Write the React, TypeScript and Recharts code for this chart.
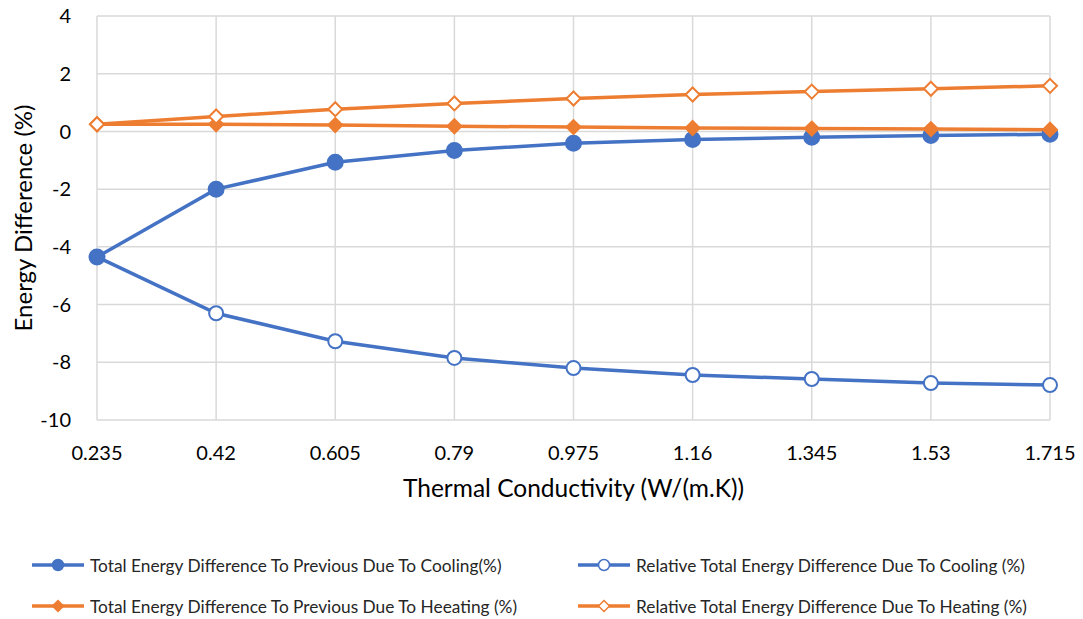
import React from 'react';
import { LineChart, Line, XAxis, YAxis, CartesianGrid } from 'recharts';

const conductivity = ['0.235', '0.42', '0.605', '0.79', '0.975', '1.16', '1.345', '1.53', '1.715'];
const coolingTotal = [-4.35, -2.0, -1.07, -0.66, -0.41, -0.28, -0.2, -0.14, -0.1];
const coolingRelative = [-4.35, -6.3, -7.27, -7.85, -8.2, -8.44, -8.58, -8.72, -8.79];
const heatingTotal = [0.25, 0.25, 0.22, 0.18, 0.15, 0.12, 0.1, 0.08, 0.06];
const heatingRelative = [0.25, 0.52, 0.77, 0.97, 1.14, 1.28, 1.38, 1.48, 1.58];
const yTicks = [-10, -8, -6, -4, -2, 0, 2, 4];

const BLUE = '#4472C4';
const ORANGE = '#ED7D31';
const FONT = 'Lato, "Open Sans", sans-serif';

const data = conductivity.map((k, i) => ({
  k,
  coolTot: coolingTotal[i],
  coolRel: coolingRelative[i],
  heatTot: heatingTotal[i],
  heatRel: heatingRelative[i],
}));

const circleDot = (color: string, filled: boolean) => (props: any) => {
  const { cx, cy, index } = props;
  return (
    <circle key={`c-${index}`} cx={cx} cy={cy} r={filled ? 7.5 : 7}
      fill={filled ? color : '#fff'} stroke={color} strokeWidth={2} />
  );
};

const diamondDot = (color: string, filled: boolean) => (props: any) => {
  const { cx, cy, index } = props;
  const s = 7;
  return (
    <polygon key={`d-${index}`}
      points={`${cx},${cy - s} ${cx + s},${cy} ${cx},${cy + s} ${cx - s},${cy}`}
      fill={filled ? color : '#fff'} stroke={color} strokeWidth={2} />
  );
};

// rotated y-axis title, centred on the plot height
const YTitle = (props: any) => {
  const { viewBox } = props;
  const cy = viewBox.y + viewBox.height / 2;
  const cx = 22;
  return (
    <text x={cx} y={cy} transform={`rotate(-90 ${cx} ${cy})`} textAnchor="middle" dominantBaseline="central"
      fontSize={24} fill="#000" fontFamily={FONT}>
      Energy Difference (%)
    </text>
  );
};

const LegendItem = ({ color, shape, filled, label }: { color: string; shape: 'circle' | 'diamond'; filled: boolean; label: string }) => (
  <div style={{ display: 'flex', alignItems: 'center', height: 20 }}>
    <svg width={58} height={14} style={{ marginRight: 2 }}>
      <line x1={2} y1={7} x2={54} y2={7} stroke={color} strokeWidth={3.5} />
      {shape === 'circle' ? (
        <circle cx={28} cy={7} r={5.5} fill={filled ? color : '#fff'} stroke={color} strokeWidth={1.5} />
      ) : (
        <polygon points="28,1.5 33.5,7 28,12.5 22.5,7" fill={filled ? color : '#fff'} stroke={color} strokeWidth={1.5} />
      )}
    </svg>
    <span style={{ fontSize: 17.3, color: '#262626', fontFamily: FONT, whiteSpace: 'nowrap' }}>{label}</span>
  </div>
);

export default function App() {
  return (
    <div style={{ position: 'absolute', left: 0, top: 0, width: 1083, height: 619, background: '#fff', fontFamily: FONT }}>
      <LineChart width={1083} height={520} data={data} margin={{ top: 16, right: 33, left: 0, bottom: 0 }}>
        <CartesianGrid stroke="#d9d9d9" strokeWidth={1.5} />
        <XAxis dataKey="k" axisLine={false} tickLine={false} height={100}
          tick={{ fontSize: 20, fill: '#000', fontFamily: FONT }} tickMargin={20}
          label={{ value: 'Thermal Conductivity (W/(m.K))', position: 'insideBottom', offset: 23, fontSize: 24.5, fill: '#000', fontFamily: FONT }} />
        <YAxis domain={[-10, 4]} ticks={yTicks} axisLine={false} tickLine={false} width={97}
          tick={{ fontSize: 20, fill: '#000', fontFamily: FONT }} tickMargin={20}
          label={{ content: YTitle }} />
        <Line dataKey="coolRel" stroke={BLUE} strokeWidth={3.5} dot={circleDot(BLUE, false)} isAnimationActive={false} />
        <Line dataKey="coolTot" stroke={BLUE} strokeWidth={3.5} dot={circleDot(BLUE, true)} isAnimationActive={false} />
        <Line dataKey="heatTot" stroke={ORANGE} strokeWidth={3.5} dot={diamondDot(ORANGE, true)} isAnimationActive={false} />
        <Line dataKey="heatRel" stroke={ORANGE} strokeWidth={3.5} dot={diamondDot(ORANGE, false)} isAnimationActive={false} />
      </LineChart>
      <div style={{ position: 'absolute', left: 30, top: 555, display: 'grid', gridTemplateColumns: '546px 480px', rowGap: 21 }}>
        <LegendItem color={BLUE} shape="circle" filled label="Total Energy Difference To Previous Due To Cooling(%)" />
        <LegendItem color={BLUE} shape="circle" filled={false} label="Relative Total Energy Difference Due To Cooling (%)" />
        <LegendItem color={ORANGE} shape="diamond" filled label="Total Energy Difference To Previous Due To Heeating (%)" />
        <LegendItem color={ORANGE} shape="diamond" filled={false} label="Relative Total Energy Difference Due To Heating (%)" />
      </div>
    </div>
  );
}
